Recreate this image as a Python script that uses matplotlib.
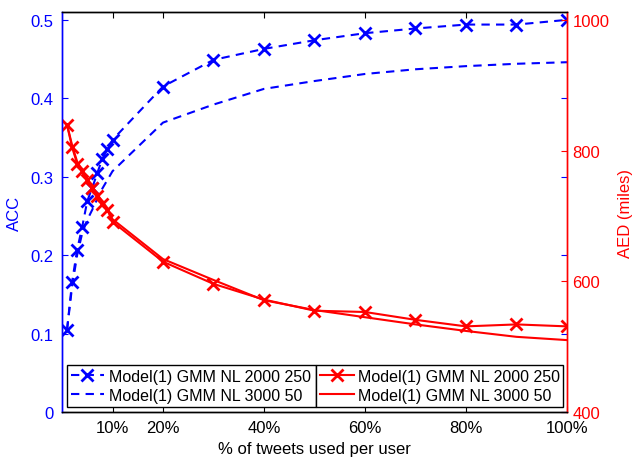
import matplotlib
matplotlib.use("Agg")
import matplotlib.pyplot as plt

plt.rcParams['font.family'] = ['Liberation Sans', 'DejaVu Sans']
plt.rcParams['font.size'] = 12

# share of tweets used per user (%)
pct = [1, 2, 3, 4, 5, 6, 7, 8, 9, 10, 20, 30, 40, 50, 60, 70, 80, 90, 100]

# accuracy (left axis)
acc_2000_250 = [0.105, 0.166, 0.207, 0.236, 0.269, 0.286, 0.305, 0.323, 0.335, 0.347,
                0.415, 0.449, 0.463, 0.474, 0.483, 0.489, 0.494, 0.494, 0.500]
acc_3000_50 = [0.105, 0.160, 0.200, 0.228, 0.245, 0.258, 0.272, 0.285, 0.296, 0.307,
               0.369, 0.392, 0.412, 0.422, 0.431, 0.437, 0.441, 0.444, 0.446]

# average error distance in miles (right axis)
aed_2000_250 = [839, 805, 780, 769, 755, 742, 730, 719, 709, 691,
                630, 596, 572, 555, 553, 541, 531, 534, 531]
aed_3000_50 = [840, 808, 783, 770, 757, 745, 733, 722, 712, 695,
               634, 602, 571, 556, 545, 534, 524, 515, 510]

xticks = [10, 20, 40, 60, 80, 100]
xticklabels = ['10%', '20%', '40%', '60%', '80%', '100%']
acc_ticks = [0, 0.1, 0.2, 0.3, 0.4, 0.5]
acc_ticklabels = ['0', '0.1', '0.2', '0.3', '0.4', '0.5']
aed_ticks = [400, 600, 800, 1000]

blue = (0, 0, 1)
red = (1, 0, 0)
lw = 1.5
dash = (0, (4, 3))

fig = plt.figure(figsize=(6.34, 4.60), dpi=100)
ax1 = fig.add_axes([0.0978, 0.1022, 0.7965, 0.8695])
ax2 = ax1.twinx()

l1, = ax1.plot(pct, acc_2000_250, color=blue, lw=lw, linestyle=dash,
               marker='x', markersize=8, markeredgewidth=2)
l2, = ax1.plot(pct, acc_3000_50, color=blue, lw=lw, linestyle=dash)
r1, = ax2.plot(pct, aed_2000_250, color=red, lw=lw, marker='x',
               markersize=8, markeredgewidth=2)
r2, = ax2.plot(pct, aed_3000_50, color=red, lw=lw)

ax1.set_xlim(0, 100)
ax1.set_ylim(0, 0.51)
ax2.set_ylim(400, 400 + 600 * 0.51 / 0.5)

ax1.set_xticks(xticks)
ax1.set_xticklabels(xticklabels)
ax1.set_yticks(acc_ticks)
ax1.set_yticklabels(acc_ticklabels)
ax2.set_yticks(aed_ticks)

ax1.tick_params(axis='x', direction='in', top=True, length=4, width=0.8,
                colors='black', pad=6, labelsize=12)
ax1.tick_params(axis='y', direction='in', right=True, length=4, width=0.8,
                colors=blue, pad=6, labelsize=12)
ax2.tick_params(axis='y', direction='in', length=4, width=0.8,
                colors=red, pad=4, labelsize=12)

for ax in (ax1, ax2):
    ax.spines['left'].set_color(blue)
    ax.spines['right'].set_color(red)
    ax.spines['top'].set_color('black')
    ax.spines['bottom'].set_color('black')
    for s in ax.spines.values():
        s.set_linewidth(1.0)

ax1.set_xlabel('% of tweets used per user', fontsize=12, labelpad=4)
ax1.set_ylabel('ACC', color=blue, fontsize=12, labelpad=6)
ax2.set_ylabel('AED (miles)', color=red, fontsize=12, labelpad=6)

leg_kw = dict(mode='expand', loc='lower left', fancybox=False, framealpha=1,
              edgecolor='black', fontsize=11.5, handlelength=2.1,
              handletextpad=0.3, borderpad=0.25, labelspacing=0.25,
              borderaxespad=0)
leg1 = ax2.legend([l1, l2], ['Model(1) GMM NL 2000 250', 'Model(1) GMM NL 3000 50'],
                  bbox_to_anchor=(0.0093, 0.0125, 0.494, 0.11), **leg_kw)
leg1.get_frame().set_linewidth(1.0)
ax2.add_artist(leg1)
leg2 = ax2.legend([r1, r2], ['Model(1) GMM NL 2000 250', 'Model(1) GMM NL 3000 50'],
                  bbox_to_anchor=(0.5033, 0.0125, 0.4882, 0.11), **leg_kw)
leg2.get_frame().set_linewidth(1.0)

fig.savefig('out.png', dpi=100)
